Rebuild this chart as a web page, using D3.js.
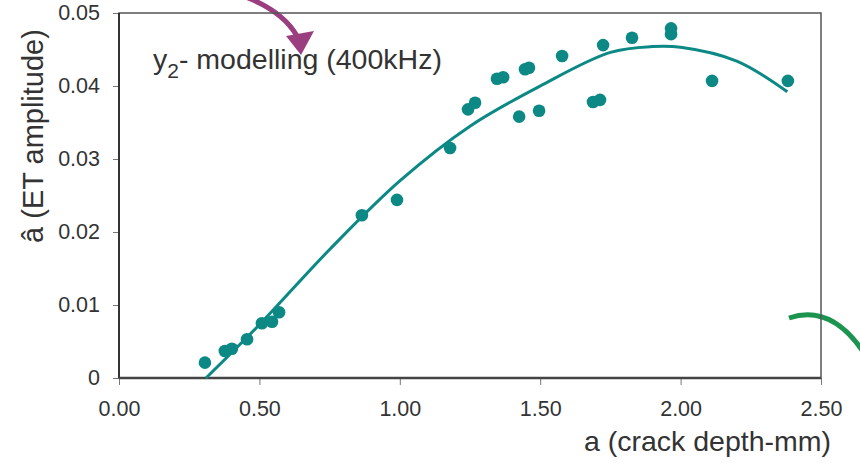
<!DOCTYPE html>
<html>
<head>
<meta charset="utf-8">
<script src="https://cdn.jsdelivr.net/npm/d3@7"></script>
<style>
  body { margin: 0; background: #fff; }
  svg { font-family: "Liberation Sans", Arial, sans-serif; }
  .tick text { font-size: 21.5px; fill: #333; }
  .tick line { stroke: #777; }
  .domain { display: none; }
</style>
</head>
<body>
<svg class="scatter" width="860" height="463"></svg>
<script>
// crack depth (mm) of each measured point
let crackDepth = [0.306, 0.377, 0.402, 0.456, 0.509, 0.545, 0.570, 0.865, 0.990, 1.179,
                  1.243, 1.268, 1.346, 1.368, 1.425, 1.446, 1.460, 1.496, 1.578, 1.688,
                  1.713, 1.724, 1.827, 1.966, 1.966, 2.112, 2.382];
// measured ET amplitude (a-hat)
let etAmplitude = [0.0021, 0.0037, 0.0040, 0.0053, 0.0075, 0.0077, 0.0090, 0.0223, 0.0244, 0.0315,
                   0.0368, 0.0377, 0.0410, 0.0412, 0.0358, 0.0423, 0.0425, 0.0366, 0.0441, 0.0378,
                   0.0381, 0.0456, 0.0466, 0.0479, 0.0471, 0.0407, 0.0407];
// y2 model curve
let modelDepth = [0.31, 0.50, 0.75, 1.00, 1.25, 1.50, 1.75, 1.90, 2.00, 2.20, 2.38];
let modelAmplitude = [0.0, 0.0073, 0.0176, 0.0270, 0.0345, 0.0400, 0.0446, 0.0454, 0.0453, 0.0434, 0.0392];

let xTicks = [0, 0.5, 1.0, 1.5, 2.0, 2.5];
let yTicks = [0, 0.01, 0.02, 0.03, 0.04, 0.05];

let points = crackDepth.map((d, i) => ({a: d, amp: etAmplitude[i]}));
let model = modelDepth.map((d, i) => ({a: d, amp: modelAmplitude[i]}));

let svg = d3.select("body").select(".scatter");
let teal = "#0c8985";

let margin = {
  top: 13,
  right: 39,
  bottom: 85,
  left: 119
};
let bounds = svg.node().getBoundingClientRect();
let plotWidth = bounds.width - margin.left - margin.right;
let plotHeight = bounds.height - margin.top - margin.bottom;

let xScale = d3.scaleLinear()
  .domain([0, 2.5])
  .range([0, plotWidth]);
let yScale = d3.scaleLinear()
  .domain([0, 0.05])
  .range([plotHeight, 0]);

// decorations coming in from outside the chart
svg.append("path")
  .attr("d", "M243,-4 Q282,10 297,36")
  .attr("fill", "none")
  .attr("stroke", "#9b3e80")
  .attr("stroke-width", 5);
svg.append("path")
  .attr("d", "M286,36 L314,31 L301,55 Z")
  .attr("fill", "#9b3e80");
svg.append("path")
  .attr("d", "M789,318 Q830,304 862,350")
  .attr("fill", "none")
  .attr("stroke", "#1b9450")
  .attr("stroke-width", 5);

let plot = svg.append("g").attr("id", "plot");
plot.attr("transform", translate(margin.left, margin.top));

// axes
let xAxis = d3.axisBottom(xScale)
  .tickValues(xTicks)
  .tickSize(7)
  .tickPadding(11)
  .tickFormat(d3.format(".2f"));
let yAxis = d3.axisLeft(yScale)
  .tickValues(yTicks)
  .tickSize(6)
  .tickPadding(13)
  .tickFormat(d => d === 0 ? "0" : d3.format(".2f")(d));

let xGroup = plot.append("g").attr("id", "x-axis");
xGroup.call(xAxis);
xGroup.attr("transform", translate(0, plotHeight));
xGroup.selectAll(".tick text").attr("dy", "0.95em");

let yGroup = plot.append("g").attr("id", "y-axis");
yGroup.call(yAxis);

// frame round the plot
plot.append("rect")
  .attr("x", 0)
  .attr("y", 0)
  .attr("width", plotWidth)
  .attr("height", plotHeight)
  .attr("fill", "none")
  .attr("stroke", "#555")
  .attr("stroke-width", 1.5);
plot.append("line")
  .attr("x1", 0).attr("x2", 0)
  .attr("y1", 0).attr("y2", plotHeight)
  .attr("stroke", "#333").attr("stroke-width", 2);
plot.append("line")
  .attr("x1", 0).attr("x2", plotWidth)
  .attr("y1", plotHeight).attr("y2", plotHeight)
  .attr("stroke", "#444").attr("stroke-width", 2.5);

// model line
let line = d3.line()
  .x(d => xScale(d.a))
  .y(d => yScale(d.amp))
  .curve(d3.curveCatmullRom);

plot.append("path")
  .datum(model)
  .attr("fill", "none")
  .attr("stroke", teal)
  .attr("stroke-width", 3)
  .attr("stroke-linejoin", "round")
  .attr("d", line);

// measured points
plot.selectAll(".dot")
  .data(points)
  .enter().append("circle")
  .attr("class", "dot")
  .attr("cx", d => xScale(d.a))
  .attr("cy", d => yScale(d.amp))
  .attr("r", 6.3)
  .attr("fill", teal);

// annotation
let note = svg.append("text")
  .attr("x", 153)
  .attr("y", 69)
  .style("font-size", "28.5px")
  .attr("fill", "#333");
note.append("tspan").text("y");
note.append("tspan").attr("dy", 9).style("font-size", "21px").text("2");
note.append("tspan").attr("dy", -9).text("- modelling (400kHz)");

// axis titles
svg.append("text")
  .attr("class", "x-axis-label")
  .attr("x", 831)
  .attr("y", 451)
  .attr("text-anchor", "end")
  .style("font-size", "28.5px")
  .attr("fill", "#333")
  .text("a (crack depth-mm)");

svg.append("text")
  .attr("class", "y-axis-label")
  .attr("transform", translate(43, 136) + " rotate(-90)")
  .attr("text-anchor", "middle")
  .style("font-size", "29px")
  .attr("fill", "#333")
  .text("\u00e2 (ET amplitude)");

function translate(x, y) {
  return 'translate(' + x + ',' + y + ')';
}
</script>
</body>
</html>
